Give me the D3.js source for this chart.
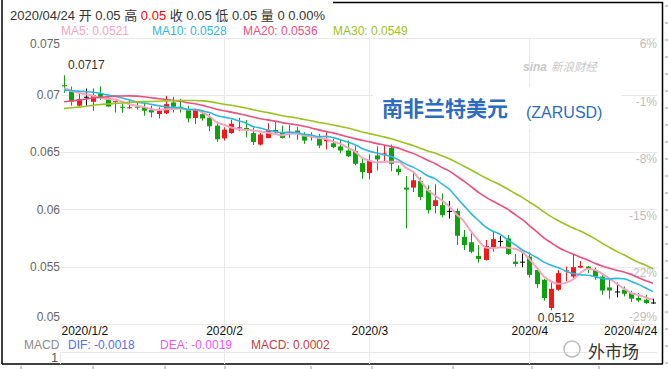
<!DOCTYPE html>
<html><head><meta charset="utf-8">
<script src="https://cdn.jsdelivr.net/npm/d3@7"></script>
<style>
html,body{margin:0;padding:0;background:#fff;}
svg{display:block;font-family:"Liberation Sans",Arial,"Noto Sans CJK SC",sans-serif;}
</style></head><body>
<svg id="c" width="668" height="369"></svg>
<script>
// ---- data ----
const dates = ["1/2","1/3","1/6","1/7","1/8","1/9","1/10","1/13","1/14","1/15","1/16","1/17","1/20","1/21","1/22","1/23","1/24","1/27","1/28","1/29","1/30","1/31",
"2/3","2/4","2/5","2/6","2/7","2/10","2/11","2/12","2/13","2/14","2/17","2/18","2/19","2/20","2/21","2/24","2/25","2/26","2/27","2/28",
"3/2","3/3","3/4","3/5","3/6","3/9","3/10","3/11","3/12","3/13","3/16","3/17","3/18","3/19","3/20","3/23","3/24","3/25","3/26","3/27","3/30","3/31",
"4/1","4/2","4/3","4/6","4/7","4/8","4/9","4/10","4/13","4/14","4/15","4/16","4/17","4/20","4/21","4/22","4/23","4/24"];
const opens = [0.07084,0.07029,0.06905,0.06983,0.06939,0.07011,0.06971,0.06935,0.06896,0.06883,0.06896,0.06890,0.06867,0.06832,0.06838,0.06933,0.06896,0.06876,0.06798,0.06831,0.06800,0.06731,
0.06620,0.06666,0.06709,0.06711,0.06666,0.06566,0.06622,0.06694,0.06675,0.06675,0.06688,0.06653,0.06631,0.06615,0.06595,0.06577,0.06549,0.06514,0.06508,0.06404,
0.06317,0.06471,0.06479,0.06537,0.06355,0.06190,0.06190,0.06247,0.06167,0.06030,0.06037,0.05987,0.05987,0.05761,0.05713,0.05594,0.05559,0.05669,0.05724,0.05747,0.05544,0.05544,
0.05588,0.05472,0.05386,0.05140,0.05299,0.05459,0.05414,0.05492,0.05501,0.05472,0.05414,0.05319,0.05284,0.05299,0.05270,0.05227,0.05212,0.05188];
const highs = [0.0717,0.07072,0.07020,0.07055,0.07055,0.07074,0.07000,0.06948,0.06922,0.06948,0.06939,0.06933,0.06905,0.06890,0.06991,0.06983,0.06965,0.06905,0.06878,0.06861,0.06835,0.06766,
0.06716,0.06783,0.06798,0.06780,0.06714,0.06666,0.06751,0.06766,0.06731,0.06735,0.06722,0.06673,0.06673,0.06659,0.06673,0.06615,0.06615,0.06601,0.06557,0.06442,
0.06479,0.06551,0.06557,0.06566,0.06384,0.06291,0.06320,0.06282,0.06210,0.06219,0.06138,0.06074,0.06008,0.05820,0.05805,0.05689,0.05733,0.05805,0.05770,0.05776,0.05611,0.05617,
0.05626,0.05487,0.05394,0.05366,0.05472,0.05501,0.05602,0.05550,0.05507,0.05492,0.05429,0.05386,0.05362,0.05327,0.05290,0.05270,0.05255,0.05221];
const lows = [0.07017,0.06905,0.06898,0.06905,0.06861,0.06954,0.06896,0.06846,0.06844,0.06878,0.06870,0.06818,0.06803,0.06794,0.06832,0.06846,0.06846,0.06760,0.06746,0.06774,0.06683,0.06588,
0.06601,0.06659,0.06683,0.06629,0.06562,0.06557,0.06622,0.06659,0.06618,0.06622,0.06607,0.06572,0.06601,0.06534,0.06523,0.06534,0.06490,0.06456,0.06384,0.06268,
0.06262,0.06340,0.06412,0.06332,0.06297,0.05834,0.06152,0.06080,0.05964,0.05964,0.05930,0.05921,0.05689,0.05646,0.05617,0.05536,0.05553,0.05631,0.05666,0.05603,0.05501,0.05496,
0.05405,0.05313,0.05203,0.0512,0.05290,0.05371,0.05400,0.05487,0.05444,0.05386,0.05255,0.05221,0.05232,0.05240,0.05192,0.05192,0.05175,0.05175];
const closes = [0.07074,0.06939,0.06963,0.06983,0.06997,0.06974,0.06898,0.06944,0.06887,0.06891,0.06887,0.06861,0.06846,0.06861,0.06919,0.06896,0.06885,0.06794,0.06867,0.06794,0.06725,0.06612,
0.06696,0.06748,0.06716,0.06696,0.06588,0.06653,0.06692,0.06673,0.06624,0.06661,0.06659,0.06601,0.06640,0.06557,0.06615,0.06543,0.06514,0.06464,0.06398,0.06326,
0.06427,0.06436,0.06488,0.06398,0.06326,0.06173,0.06254,0.06109,0.05993,0.06080,0.05950,0.05987,0.05770,0.05689,0.05631,0.05568,0.05681,0.05741,0.05724,0.05611,0.05524,0.05544,
0.05429,0.05348,0.05227,0.05307,0.05444,0.05468,0.05496,0.05507,0.05481,0.05414,0.05292,0.05292,0.05284,0.05264,0.05221,0.05206,0.05183,0.05188];
// closes before 2020/1/2, estimated from where the MA lines start at the left edge
const priorCloses = [0.0676,0.0679,0.0677,0.0675,0.0674,0.0678,0.0680,0.0676,0.0675,0.0675,
0.0680,0.0681,0.0679,0.0682,0.0684,0.0683,0.0682,0.0686,0.0688,0.0692,
0.0698,0.0701,0.0703,0.0705,0.07065,0.0704,0.0705,0.0705,0.07061];
const maPeriods = [5,10,20,30];
const maColors = ["#f7a3bf","#2bb8de","#ee4d7e","#9bc21e"];
const maLegend = ["MA5: 0.0521","MA10: 0.0528","MA20: 0.0536","MA30: 0.0549"];
const yTicks = [0.075,0.07,0.065,0.06,0.055,0.05];
const yTickLabels = ["0.075","0.07","0.065","0.06","0.055","0.05"];
const pctTickLabels = ["6%","-1%","-8%","-15%","-22%","-29%"];
const xTickDates = ["1/2","2/3","3/2","4/1","4/24"];
const xTickLabels = ["2020/1/2","2020/2","2020/3","2020/4","2020/4/24"];
const monthStarts = ["2/3","3/2","4/1"];
const maxLabel = "0.0717", minLabel = "0.0512";

// ---- drawing ----
const svg = d3.select("#c");
const x = d3.scalePoint().domain(dates).range([64, 653]);
const y = d3.scaleLinear().domain([0.05, 0.075]).range([324, 37.5]);

// frame
svg.append("line").attr("x1",2).attr("x2",2).attr("y1",0).attr("y2",364).attr("stroke","#000").attr("stroke-width",1.5);
svg.append("line").attr("x1",662.5).attr("x2",662.5).attr("y1",2).attr("y2",364).attr("stroke","#000").attr("stroke-width",1.5);
svg.append("line").attr("x1",2).attr("x2",663).attr("y1",364).attr("y2",364).attr("stroke","#000").attr("stroke-width",1.5);
svg.append("line").attr("x1",333).attr("x2",663).attr("y1",2.5).attr("y2",2.5).attr("stroke","#000").attr("stroke-width",1.5);
for (let yy = 6; yy < 364; yy += 17) svg.append("line").attr("x1",665).attr("x2",668).attr("y1",yy).attr("y2",yy).attr("stroke","#999");
[21,93,165,225,311,372,453,532,599].forEach(xx => svg.append("line").attr("x1",xx).attr("x2",xx).attr("y1",366).attr("y2",369).attr("stroke","#999"));

// grid
const grid = svg.append("g").attr("stroke","#e9e9e9").attr("stroke-width",1);
yTicks.forEach(v => grid.append("line").attr("x1",61).attr("x2",657).attr("y1",Math.round(y(v))+0.5).attr("y2",Math.round(y(v))+0.5));
monthStarts.forEach(d => grid.append("line").attr("x1",Math.round(x(d))+0.5).attr("x2",Math.round(x(d))+0.5).attr("y1",37).attr("y2",364));
grid.append("line").attr("x1",61).attr("x2",657).attr("y1",352.5).attr("y2",352.5);
grid.append("line").attr("x1",60.5).attr("x2",60.5).attr("y1",352).attr("y2",364);

// title box
svg.append("rect").attr("x",373).attr("y",87).attr("width",248).attr("height",42).attr("fill","#fff");
svg.append("text").attr("x",382).attr("y",116).attr("font-size",21).attr("font-weight","bold").attr("fill","#2d6cc0")
  .attr("font-family","'Noto Sans CJK SC',sans-serif").text("南非兰特美元");
svg.append("text").attr("x",526).attr("y",118).attr("font-size",16).attr("fill","#2d6cc0").text("(ZARUSD)");
// sina watermark
svg.append("text").attr("x",523).attr("y",71).attr("font-size",12).attr("font-style","italic").attr("font-weight","bold").attr("fill","#c8c8c8").text("sina");
svg.append("text").attr("x",551).attr("y",71).attr("font-size",11.5).attr("font-style","italic").attr("fill","#c8c8c8")
  .attr("font-family","'Noto Sans CJK SC',sans-serif").text("新浪财经");

// left axis
const la = svg.append("g").attr("transform","translate(60,0)")
  .call(d3.axisLeft(y).tickValues(yTicks).tickSize(0).tickPadding(0).tickFormat((d,i)=>yTickLabels[i]));
la.select(".domain").remove();
la.selectAll("text").attr("font-size",12).attr("fill","#666").attr("font-family","'Liberation Sans',Arial,sans-serif")
  .attr("dy",(d,i)=> i===0 ? "0.85em" : (i===yTicks.length-1 ? "-0.3em" : "0.32em"));
// right axis (percent)
const ra = svg.append("g").attr("transform","translate(657,0)")
  .call(d3.axisLeft(y).tickValues(yTicks).tickSize(0).tickPadding(0).tickFormat((d,i)=>pctTickLabels[i]));
ra.select(".domain").remove();
ra.selectAll("text").attr("font-size",12).attr("fill","#bdbdbd").attr("font-family","'Liberation Sans',Arial,sans-serif")
  .attr("dy",(d,i)=> i===yTicks.length-1 ? "-0.3em" : "0.85em");
// bottom axis
const ba = svg.append("g").attr("transform","translate(0,324)")
  .call(d3.axisBottom(x).tickValues(xTickDates).tickSize(0).tickPadding(2).tickFormat((d,i)=>xTickLabels[i]));
ba.select(".domain").remove();
ba.selectAll("text").attr("font-size",12).attr("fill","#111").attr("font-family","'Liberation Sans',Arial,sans-serif")
  .attr("text-anchor",(d,i)=> i===0 ? "start" : (i===xTickDates.length-1 ? "end" : "middle"))
  .attr("dx",(d,i)=> i===0 ? "-3" : (i===xTickDates.length-1 ? "4" : "0"));

// candles
const bodyW = 5;
const cg = svg.append("g");
dates.forEach((d,i) => {
  const o = opens[i], c = closes[i];
  const col = c > o ? "#f2191b" : (c < o ? "#0ca30c" : "#000");
  const cx = Math.round(x(d)) + 0.5;
  cg.append("line").attr("x1",cx).attr("x2",cx).attr("y1",y(highs[i])).attr("y2",y(lows[i])).attr("stroke",col).attr("stroke-width",1);
  const top = y(Math.max(o,c)), bot = y(Math.min(o,c));
  cg.append("rect").attr("x",cx-bodyW/2).attr("y",top).attr("width",bodyW).attr("height",Math.max(1,bot-top)).attr("fill",col);
});

// moving averages
const allCloses = priorCloses.concat(closes);
const off = priorCloses.length;
maPeriods.forEach((p,k) => {
  const vals = closes.map((c,i) => d3.mean(allCloses.slice(off+i-p+1, off+i+1)));
  svg.append("path").datum(vals)
    .attr("fill","none").attr("stroke",maColors[k]).attr("stroke-width",k===0?2:1.6)
    .attr("d", d3.line().x((v,i)=>x(dates[i])).y(v=>y(v)).curve(d3.curveMonotoneX));
});

// max / min labels
const iMax = d3.maxIndex(highs), iMin = d3.minIndex(lows);
svg.append("text").attr("x",x(dates[iMax])+4).attr("y",y(highs[iMax])-6).attr("font-size",12).attr("fill","#333").text(maxLabel);
svg.append("text").attr("x",x(dates[iMin])+5).attr("y",321.5).attr("text-anchor","middle").attr("font-size",12).attr("fill","#333").text(minLabel);

// header
const hdr = svg.append("text").attr("x",10).attr("y",20).attr("font-size",13).attr("fill","#333")
  .attr("font-family","'Liberation Sans',Arial,'Noto Sans CJK SC',sans-serif");
hdr.append("tspan").text("2020/04/24 开 0.05 高 ");
hdr.append("tspan").attr("fill","#f00").text("0.05");
hdr.append("tspan").text(" 收 0.05 低 0.05 量 0 0.00%");
// MA legend
const legX = [61,152,243,333];
maLegend.forEach((t,k) => svg.append("text").attr("x",legX[k]).attr("y",35).attr("font-size",12).attr("fill",maColors[k]).text(t));

// MACD row
const macdItems = [["MACD",24,"#8a8a8a"],["DIF: -0.0018",68,"#5a6cf2"],["DEA: -0.0019",160,"#ee55ee"],["MACD: 0.0002",251,"#c33d3d"]];
macdItems.forEach(m => svg.append("text").attr("x",m[1]).attr("y",348.5).attr("font-size",12).attr("fill",m[2]).text(m[0]));
svg.append("text").attr("x",58).attr("y",362).attr("text-anchor","end").attr("font-size",12).attr("fill","#555").text("1");

// bottom-right watermark
svg.append("circle").attr("cx",572).attr("cy",349).attr("r",8).attr("fill","none").attr("stroke","#bbb").attr("stroke-width",1.5);
svg.append("text").attr("x",588).attr("y",358).attr("font-size",17).attr("fill","#333")
  .attr("font-family","'Noto Sans CJK SC',sans-serif").text("外市场");
</script>
</body></html>
